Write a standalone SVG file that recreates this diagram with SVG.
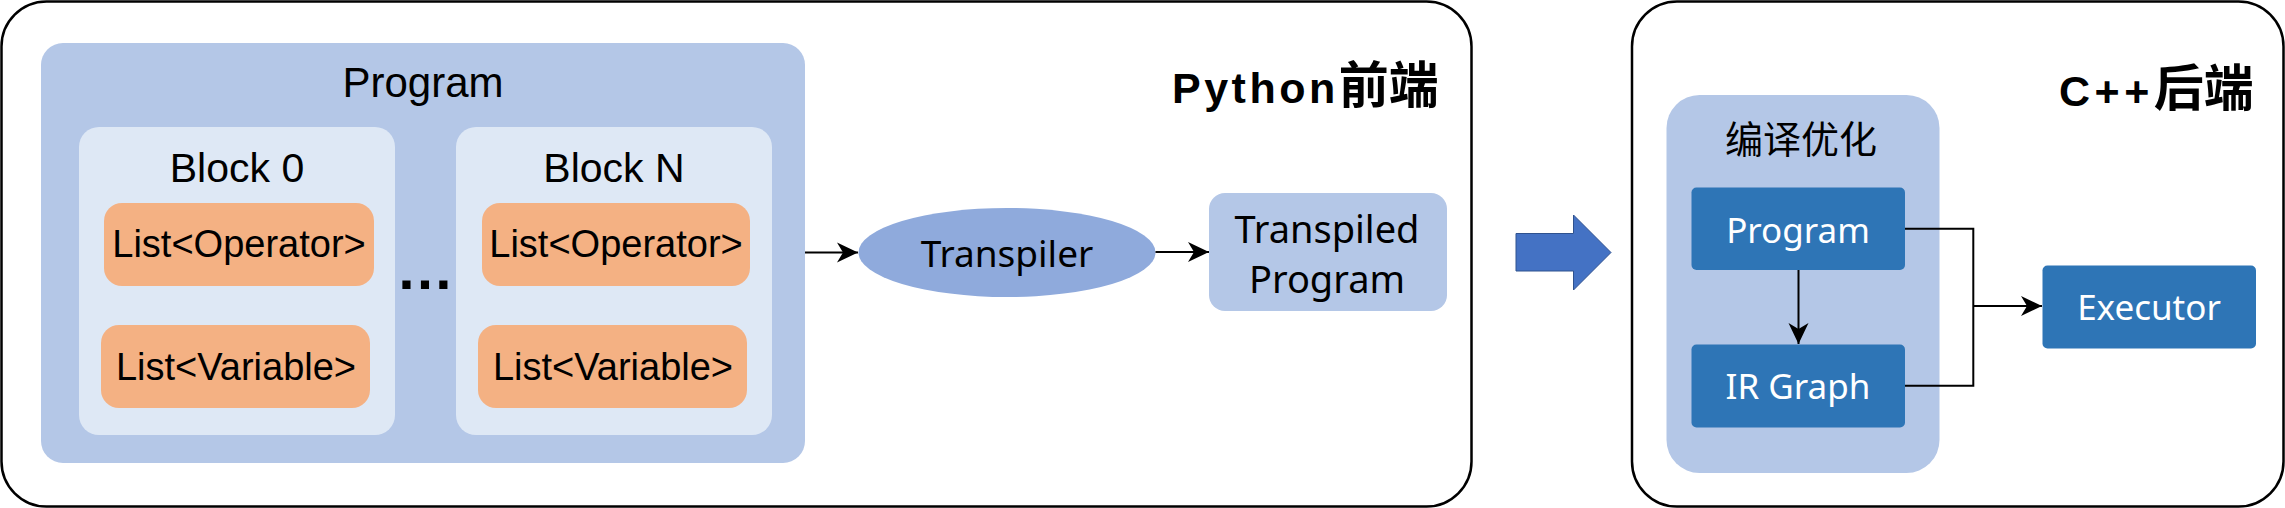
<svg xmlns="http://www.w3.org/2000/svg" width="2285" height="508" viewBox="0 0 2285 508">
<defs>
<style>
.frame{fill:#fff;stroke:#000;stroke-width:2.5}
.lb{fill:#B4C7E7}
.blk{fill:#DEE8F5}
.org{fill:#F4B183}
.dk{fill:#2E75B6}
.ar{font-family:"Liberation Sans",Arial,sans-serif;fill:#000;text-anchor:middle}
.ns{font-family:"Noto Sans","Open Sans",sans-serif;text-anchor:middle}
.cn{font-family:"Noto Sans CJK SC",sans-serif;text-anchor:middle}
.ttl{font-family:"Liberation Sans","Noto Sans CJK SC",sans-serif;font-weight:bold;fill:#000}
.ln{fill:none;stroke:#000;stroke-width:2}
</style>
<marker id="ah" markerUnits="userSpaceOnUse" markerWidth="22" markerHeight="22" viewBox="0 0 22 22" refX="21" refY="11" orient="auto">
<path d="M0,1 L21,11 L0,21 L6,11 z" fill="#000"/>
</marker>
</defs>

<g id="python-frontend">
<rect class="frame" x="1.5" y="1.5" width="1470" height="505" rx="45" ry="45"/>
<text class="ttl" x="1172" y="103" font-size="43" letter-spacing="3.5">Python<tspan font-size="50" letter-spacing="0">前端</tspan></text>
</g>

<g id="program">
<rect class="lb" x="41" y="43" width="764" height="420" rx="22" ry="22"/>
<text class="ar" x="423" y="97" font-size="42">Program</text>
</g>

<g id="block0">
<rect class="blk" x="79" y="127" width="316" height="308" rx="20" ry="20"/>
<text class="ar" x="237" y="182" font-size="41">Block 0</text>
</g>
<g id="block0-ops">
<rect class="org" x="104" y="203" width="270" height="83" rx="18" ry="18"/>
<text class="ar" x="239" y="257" font-size="38">List&lt;Operator&gt;</text>
</g>
<g id="block0-vars">
<rect class="org" x="101" y="325" width="269" height="83" rx="18" ry="18"/>
<text class="ar" x="236" y="380" font-size="38">List&lt;Variable&gt;</text>
</g>

<g id="ellipsis">
<text class="ar" x="425" y="289" font-size="58" font-weight="bold">…</text>
</g>

<g id="blockN">
<rect class="blk" x="456" y="127" width="316" height="308" rx="20" ry="20"/>
<text class="ar" x="614" y="182" font-size="41">Block N</text>
</g>
<g id="blockN-ops">
<rect class="org" x="482" y="203" width="268" height="83" rx="18" ry="18"/>
<text class="ar" x="616" y="257" font-size="38">List&lt;Operator&gt;</text>
</g>
<g id="blockN-vars">
<rect class="org" x="478" y="325" width="269" height="83" rx="18" ry="18"/>
<text class="ar" x="613" y="380" font-size="38">List&lt;Variable&gt;</text>
</g>

<g id="transpiler">
<ellipse cx="1007" cy="252.5" rx="148.5" ry="44.5" fill="#8FAADC"/>
<text class="ns" x="1007" y="267" font-size="37" fill="#000">Transpiler</text>
</g>

<g id="transpiled-program">
<rect class="lb" x="1209" y="193" width="238" height="118" rx="16" ry="16"/>
<text class="ns" x="1327" y="243" font-size="38" fill="#000">Transpiled</text>
<text class="ns" x="1327" y="293" font-size="38" fill="#000">Program</text>
</g>

<g id="big-arrow">
<path d="M1516,233.5 H1573.5 V215 L1611,252.5 L1573.5,290 V271 H1516 z" fill="#4472C4" stroke="#2F528F" stroke-width="1"/>
</g>

<g id="cpp-backend">
<rect class="frame" x="1632" y="1.5" width="651.5" height="505" rx="45" ry="45"/>
<text class="ttl" x="2059" y="106" font-size="43" letter-spacing="4.5">C++<tspan font-size="50" letter-spacing="0">后端</tspan></text>
</g>

<g id="compile-opt">
<rect class="lb" x="1666.5" y="95" width="273" height="378" rx="33" ry="33"/>
<text class="cn" x="1801" y="153" font-size="38" fill="#000">编译优化</text>
</g>

<g id="cpp-program">
<rect class="dk" x="1691.5" y="187.5" width="213.5" height="82.5" rx="5" ry="5"/>
<text class="ns" x="1798" y="243" font-size="35" fill="#fff">Program</text>
</g>

<g id="ir-graph">
<rect class="dk" x="1691.5" y="344.5" width="213.5" height="83" rx="5" ry="5"/>
<text class="ns" x="1798" y="399" font-size="35" fill="#fff">IR Graph</text>
</g>

<g id="executor">
<rect class="dk" x="2042.5" y="265.5" width="213.5" height="83" rx="5" ry="5"/>
<text class="ns" x="2149" y="320" font-size="35" fill="#fff">Executor</text>
</g>

<g id="connectors">
<path class="ln" d="M805,252.5 H858" marker-end="url(#ah)"/>
<path class="ln" d="M1155.5,252 H1209" marker-end="url(#ah)"/>
<path class="ln" d="M1798.5,270 V344" marker-end="url(#ah)"/>
<path class="ln" d="M1905,228.7 H1973.3 V385.7 H1905"/>
<path class="ln" d="M1973.3,306 H2042" marker-end="url(#ah)"/>
</g>
</svg>
